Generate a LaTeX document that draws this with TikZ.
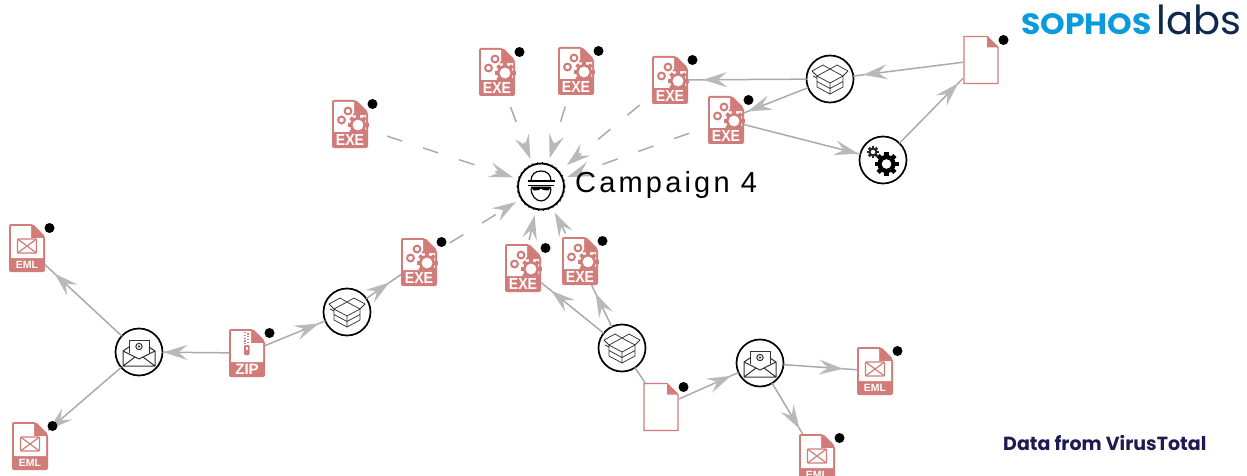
\documentclass[tikz,border=0pt]{standalone}
\usepackage{fontspec}
\setmainfont{Liberation Sans}
\newfontfamily\logofont{Poppins}
\usetikzlibrary{arrows.meta,decorations.markings,calc}
\definecolor{filered}{HTML}{D27C7A}
\definecolor{edgegrey}{HTML}{ABABAB}
\definecolor{tipgrey}{HTML}{B9B9B9}
\definecolor{soblue}{HTML}{0A9BDC}
\definecolor{sonavy}{HTML}{10284B}
\definecolor{datanavy}{HTML}{1E1A52}
\newcommand{\mygear}[6]{% x y r hole toothhalf colour
  \foreach \a in {0,45,90,135}
    \fill[#6,shift={(#1,#2)},rotate=\a] (-#5,-#3) rectangle (#5,#3);
  \fill[#6] (#1,#2) circle[radius=#3*0.76];
  \fill[white] (#1,#2) circle[radius=#4];
}
\newcommand{\filebody}[1]{% band top
  \fill[filered,rounded corners=2pt] (-18,-24) -- (6,-24) -- (18,-12) -- (18,24) -- (-18,24) -- cycle;
  \fill[white] (-16,-22) -- (4,-22) -- (4,-10) -- (16,-10) -- (16,#1) -- (-16,#1) -- cycle;
}
\tikzset{
  x=1pt,y=-1pt,
  fileshape/.style={rectangle,minimum width=36pt,minimum height=48pt,inner sep=0pt,outer sep=0pt},
  roundshape/.style={circle,minimum size=47pt,inner sep=0pt,outer sep=0pt,draw=black,line width=1.7pt,fill=white},
  blackdot/.style={circle,fill=black,minimum size=10pt,inner sep=0pt,outer sep=0pt},
  edge/.style={draw=edgegrey,line width=1.5pt},
  midarrow/.style={edge,postaction={decorate},decoration={markings,mark=at position -#1pt with {\arrow[tipgrey]{Stealth[length=24pt,width=15pt,inset=9pt]}}}},
  dashedge/.style={draw=edgegrey,line width=1.5pt,dash pattern=on 16pt off 22pt,shorten >=6pt,shorten <=15pt,-{Stealth[length=24pt,width=15pt,inset=9pt,color=tipgrey]}},
  icontext/.style={text=white,font=\bfseries,inner sep=0pt},
  exeicon/.pic={
    \filebody{8}
    \mygear{8}{1}{10.5}{5.4}{1.8}{filered}
    \draw[filered,line width=2pt,fill=white] (-2,-13) circle[radius=3.4];
    \draw[filered,line width=2pt,fill=white] (-8.5,-4) circle[radius=3.4];
    \draw[filered,line width=2pt] (3,-9.5) -- (16,-10);
    \node[icontext,xscale=0.88] at (0,16.2) {\fontsize{16}{16}\selectfont EXE};
  },
  emlicon/.pic={
    \filebody{10}
    \draw[filered,line width=1.4pt,rounded corners=1pt] (-9.5,-9) rectangle (9.5,5);
    \draw[filered,line width=1.2pt] (-9.5,-9) -- (9.5,5) (9.5,-9) -- (-9.5,5);
    \node[icontext] at (0,17) {\fontsize{10.5}{10.5}\selectfont EML};
  },
  zipicon/.pic={
    \filebody{9}
    \draw[filered,line width=2pt,dash pattern=on 1.2pt off 1.6pt] (-2,-21) -- (-2,-9);
    \draw[filered,line width=2pt,dash pattern=on 1.2pt off 1.6pt,dash phase=1.4pt] (1,-21) -- (1,-9);
    \fill[filered,rounded corners=1pt] (-3,-8) rectangle (2.5,2);
    \fill[white] (-1.2,-6) rectangle (0.8,-3);
    \node[icontext] at (0,16.5) {\fontsize{15}{15}\selectfont ZIP};
  },
  blankicon/.pic={
    \draw[filered,line width=1.4pt,fill=white] (-17,-23.5) -- (6,-23.5) -- (17,-12.5) -- (17,23.5) -- (-17,23.5) -- cycle;
    \fill[filered] (6,-23.5) -- (6,-12.5) -- (17,-12.5) -- cycle;
  },
  boxicon/.pic={
    \draw[black!80,line width=0.75pt,line join=round]
      (-13,-3) -- (0,4) -- (13,-3) -- (0,-10) -- cycle
      (-13,-3) -- (-18,-8) -- (-7,-14) -- (0,-10) -- (7,-14) -- (18,-8) -- (13,-3)
      (-13,-3) -- (-13,8) -- (0,15) -- (13,8) -- (13,-3)
      (0,4) -- (0,15)
      (-13,2.5) -- (0,9.5) -- (13,2.5)
      (-17,-3) -- (-13,-1);
  },
  mailicon/.pic={
    \draw[black!80,line width=1pt,fill=white] (-10,1) -- (-10,-12) -- (10,-12) -- (10,1);
    \draw[black!80,line width=1pt] (0,-5.5) circle[radius=3.2];
    \fill[black!70] (0,-5.5) circle[radius=1.3];
    \draw[black!80,line width=1pt,line join=round] (-16,-1) -- (-16,14) -- (16,14) -- (16,-1) -- (10,-5) (-10,-5) -- (-16,-1) -- (0,7) -- (16,-1)
      (-16,14) -- (-4,5) (16,14) -- (4,5);
  },
  gearsicon/.pic={
    \mygear{3.5}{4}{12}{4.8}{2.2}{black}
    \mygear{-10}{-8}{6}{2.2}{1.3}{black!85}
  },
  spyicon/.pic={
    \draw[black,line width=1.8pt] (0,0) circle[radius=23];
    \draw[black,line width=0.7pt,dash pattern=on 1pt off 4pt] (0,0) circle[radius=24.2];
    \draw[black,line width=1.2pt] (-10,-5.5) .. controls (-10,-12) and (-6,-15.5) .. (0,-15.5) .. controls (6,-15.5) and (10,-12) .. (10,-5.5);
    \draw[black,line width=1.2pt] (-10,2) .. controls (-10,9) and (-5,14.5) .. (0,14.5) .. controls (5,14.5) and (10,9) .. (10,2);
    \draw[black,line width=1.4pt] (-13.5,-5.5) -- (13.5,-5.5) (-13,-1) -- (13,-1);
    \fill[black] (-10,0) -- (10,0) -- (10,1.5) -- (7,4) -- (2,3.5) -- (0,2) -- (-2,3.5) -- (-7,4) -- (-10,1.5) -- cycle;
  },
}
\begin{document}
\begin{tikzpicture}
\useasboundingbox (0,0) rectangle (1247,476);
\clip (0,0) rectangle (1247,476);
\fill[white] (0,0) rectangle (1247,476);

% file icons
\foreach \nm/\px/\py/\kind in {
  exea/350/124/exeicon, exeb/497/72/exeicon, exec/576/71/exeicon, exed/670/80/exeicon,
  exee/726/120/exeicon, filea/981/60/blankicon, exef/523/268/exeicon, exeg/580/261/exeicon,
  fileb/661/407/blankicon, emla/875/371/emlicon, emlb/817/458/emlicon, emlc/27/248/emlicon,
  emld/30/446/emlicon, zipa/247/353/zipicon, exeh/419/262/exeicon}{
  \node[fileshape] (\nm) at (\px,\py) {};
  \pic at (\nm.center) {\kind};
}
% round icons
\node[roundshape] (boxa) at (830,79) {};
\pic at (boxa.center) {boxicon};
\node[roundshape] (gears) at (883,160) {};
\pic at (gears.center) {gearsicon};
\node[roundshape] (boxb) at (622,348) {};
\pic at (boxb.center) {boxicon};
\node[roundshape] (maila) at (760,363) {};
\pic at (maila.center) {mailicon};
\node[roundshape] (mailb) at (139,352) {};
\pic at (mailb.center) {mailicon};
\node[roundshape] (boxc) at (347,312) {};
\pic at (boxc.center) {boxicon};
\node[circle,minimum size=47pt,inner sep=0pt,outer sep=0pt,fill=white] (spy) at (541,186.5) {};
\pic at (spy.center) {spyicon};

% connectors
\path[midarrow=1] (zipa) -- (mailb);
\path[midarrow=13] (mailb) -- (emlc);
\path[midarrow=1] (mailb) -- (emld);
\path[midarrow=7] (zipa) -- (boxc);
\path[midarrow=14] (boxc) -- (exeh);
\path[midarrow=13] (boxb) -- (exef);
\path[midarrow=9] (boxb) -- (exeg);
\path[edge] (boxb) -- (fileb);
\path[midarrow=8] (fileb) -- (maila);
\path[midarrow=14] (maila) -- (emla);
\path[midarrow=6] (maila) -- (emlb);
\path[midarrow=10] (filea) -- (boxa);
\path[midarrow=15] (boxa) -- (exed);
\path[midarrow=4] (boxa) -- (exee);
\path[midarrow=2] (exee) -- (gears);
\path[midarrow=7] (gears) -- (filea);

\draw[dashedge,shorten <=20pt] (exea) -- (spy);
\draw[dashedge,shorten <=12pt] (exeb) -- (spy);
\draw[dashedge,shorten <=12pt] (exec) -- (spy);
\draw[dashedge,shorten <=16pt,shorten >=10pt] (exed) -- (spy);
\draw[dashedge,shorten <=20pt,shorten >=4pt] (exee) -- (spy);
\draw[dashedge] (exeh) -- (spy);
\draw[dashedge,dash pattern=on 40pt off 0pt,shorten <=4pt] (exef) -- (spy);
\draw[dashedge,dash pattern=on 40pt off 0pt,shorten <=4pt] (exeg) -- (spy);

% status dots, above the connectors
\foreach \nm in {exea,exeb,exec,exed,exee,filea,exef,exeg,fileb,emla,emlb,emlc,emld,zipa,exeh}
  \node[blackdot] (\nm dot) at ($(\nm.center)+(22.5,-20)$) {};

% labels
\node[anchor=base west,inner sep=0pt] (camp) at (575,192) {\fontsize{29}{29}\selectfont\addfontfeature{LetterSpace=11}Campaign 4};
\node[anchor=base west,inner sep=0pt,text=soblue] (logoa) at (1021,35) {\scalebox{1.12}[1.05]{\logofont\bfseries\fontsize{28}{28}\selectfont SOPHOS}};
\node[anchor=base west,inner sep=0pt,text=sonavy] (logob) at (1156,35) {\logofont\fontsize{40}{40}\selectfont labs};
\node[anchor=base west,inner sep=0pt,text=datanavy] (data) at (1003,450) {\logofont\bfseries\fontsize{19}{20}\selectfont Data from VirusTotal};
\end{tikzpicture}
\end{document}
